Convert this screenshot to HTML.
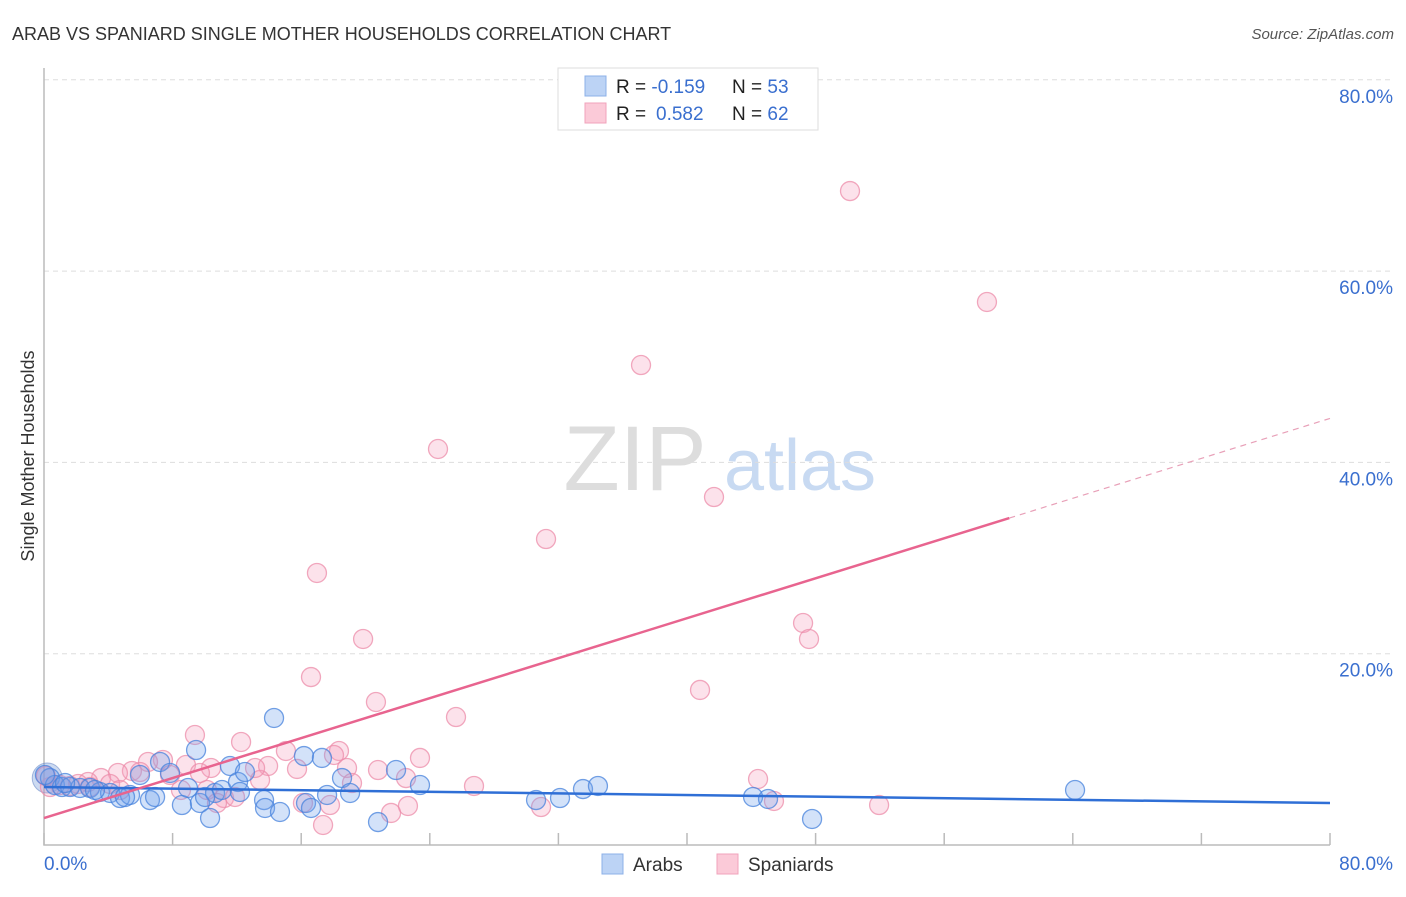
<!DOCTYPE html>
<html><head><meta charset="utf-8"><style>
body{margin:0;background:#fff;font-family:"Liberation Sans",sans-serif}
svg text{font-family:"Liberation Sans",sans-serif}
</style></head><body>
<svg id="c" width="1406" height="892" xmlns="http://www.w3.org/2000/svg">
<text x="12" y="40" font-size="18" fill="#333">ARAB VS SPANIARD SINGLE MOTHER HOUSEHOLDS CORRELATION CHART</text>
<text x="1394" y="39" font-size="15" fill="#555" font-style="italic" text-anchor="end">Source: ZipAtlas.com</text>
<g>
<text x="635" y="490" font-size="92" fill="#ddd" font-family="Liberation Serif" text-anchor="middle">ZIP</text>
<text x="800" y="490" font-size="72" fill="#c8daf2" text-anchor="middle">atlas</text>
</g>
<g id="grid"></g>
<g id="axes"></g>
<g id="pts"></g>
<g id="lines"></g>
<text transform="translate(34,456) rotate(-90)" font-size="18" fill="#333" text-anchor="middle">Single Mother Households</text>
<g>
<rect x="558" y="68" width="260" height="62" fill="#fff" stroke="#ddd"/>
<rect x="585" y="76" width="21" height="20" fill="#bcd3f5" stroke="#8cb0e8"/>
<rect x="585" y="103" width="21" height="20" fill="#fbcad8" stroke="#f0a3bb"/>
<text x="616" y="93" font-size="19" fill="#222">R = <tspan fill="#3a6fcf">-0.159</tspan><tspan x="732">N = </tspan><tspan fill="#3a6fcf">53</tspan></text>
<text x="616" y="120" font-size="19" fill="#222">R = <tspan x="656" fill="#3a6fcf">0.582</tspan><tspan x="732">N = </tspan><tspan fill="#3a6fcf">62</tspan></text>
</g>
<g>
<rect x="602" y="854" width="21" height="20" fill="#bcd3f5" stroke="#8cb0e8"/>
<text x="633" y="871" font-size="19" fill="#333">Arabs</text>
<rect x="717" y="854" width="21" height="20" fill="#fbcad8" stroke="#f0a3bb"/>
<text x="748" y="871" font-size="19" fill="#333">Spaniards</text>
</g>
</svg>
<script>
const arabX=[0.37,0.68,1.12,1.62,2.24,2.86,3.48,4.11,4.73,5.35,5.97,6.59,7.22,7.84,8.58,8.96,9.46,9.70,10.33,10.64,11.07,11.57,12.07,12.50,12.19,13.69,13.75,14.31,14.68,16.17,16.30,16.61,17.29,17.61,18.54,19.04,20.78,21.90,23.39,30.61,32.10,33.53,34.46,44.11,45.04,47.78,64.14,0.06,1.31,3.17,5.04,6.91,10.02];
const arabY=[7.0,6.27,6.06,6.06,5.96,5.96,5.54,5.44,4.91,5.23,7.32,4.70,8.68,7.53,4.18,5.96,9.93,4.39,2.82,5.44,5.75,8.26,6.59,7.63,5.54,4.70,3.87,13.28,3.45,9.30,4.39,3.87,9.10,5.23,7.0,5.44,2.40,7.84,6.27,4.70,4.91,5.85,6.17,5.02,4.81,2.72,5.75,7.32,6.48,5.75,5.02,5.02,5.02];
const spanX=[50.14,58.66,37.14,24.51,41.68,31.23,16.98,19.85,47.22,47.59,16.61,40.81,20.65,25.63,9.39,12.26,15.05,18.35,18.04,23.39,7.40,8.83,6.47,13.94,15.74,18.85,20.78,22.52,5.47,4.60,3.55,2.74,2.12,1.0,0.37,1.62,10.14,8.52,11.20,13.44,26.75,44.42,16.11,22.64,21.59,17.36,30.92,45.41,51.95,11.88,10.39,5.97,13.13,2.86,4.11,7.84,10.76,0.12,9.70,17.79,19.16,4.73];
const spanY=[68.37,56.77,50.18,41.40,36.38,31.99,28.44,21.54,23.21,21.54,17.56,16.21,14.95,13.38,11.50,10.77,9.83,9.83,9.41,9.10,8.89,8.36,8.68,8.26,7.95,8.05,7.84,7.0,7.74,7.53,7.0,6.59,6.38,6.27,6.06,6.17,5.75,5.75,4.91,6.80,6.17,6.90,4.39,4.08,3.35,2.09,3.97,4.60,4.18,5.02,8.05,7.63,8.05,6.06,6.38,7.32,4.39,7.21,7.53,4.18,6.48,5.75];
const yTicks=[20,40,60,80];
const yTickLabels=["20.0%","40.0%","60.0%","80.0%"];
const xTicks=[0,8,16,24,32,40,48,56,64,72,80];
const arabTrend=[6.06,4.39];
const spanTrend=[2.82,44.6];
const spanSolidEnd=60.05;
const NS='http://www.w3.org/2000/svg';
const X=v=>44+v/80*1286, Y=v=>845-v/20*191.3;
function mk(t,a,p){const e=document.createElementNS(NS,t);for(const k in a)e.setAttribute(k,a[k]);p.appendChild(e);return e;}
const grid=document.getElementById('grid'),axes=document.getElementById('axes'),pts=document.getElementById('pts'),lines=document.getElementById('lines');
yTicks.forEach((v,i)=>{
 const g=mk('line',{x1:44,x2:1394,y1:Y(v),y2:Y(v),stroke:'#ddd','stroke-dasharray':'5,4'},grid);
 
 
 const t=mk('text',{x:1393,y:Y(v)+23,'font-size':19,fill:'#3a6fcf','text-anchor':'end'},axes);
 t.textContent=yTickLabels[i];
 
 
});
const ax=mk('path',{d:'M44,68V845H1330',fill:'none',stroke:'#bbb','stroke-width':1.5},axes);


xTicks.forEach(v=>{const l=mk('line',{x1:X(v),x2:X(v),y1:833,y2:845,stroke:'#bbb','stroke-width':1.5},axes);
 
 });
const x0=mk('text',{x:44,y:870,'font-size':19,fill:'#3a6fcf'},axes);x0.textContent='0.0%';


const x1=mk('text',{x:1393,y:870,'font-size':19,fill:'#3a6fcf','text-anchor':'end'},axes);x1.textContent='80.0%';


const big1=mk('circle',{cx:X(0.2),cy:Y(7),r:15,fill:'rgba(110,150,215,0.35)',stroke:'rgba(110,140,200,0.6)'},pts);


spanX.forEach((v,i)=>{const c=mk('circle',{cx:X(v),cy:Y(spanY[i]),r:9.5,fill:'rgba(244,160,188,0.3)',stroke:'rgba(236,140,170,0.75)','stroke-width':1.3},pts);
 
 });
arabX.forEach((v,i)=>{const c=mk('circle',{cx:X(v),cy:Y(arabY[i]),r:9.5,fill:'rgba(110,160,235,0.3)',stroke:'rgba(70,130,220,0.75)','stroke-width':1.3},pts);
 
 });
const bl=mk('line',{x1:X(0),y1:Y(arabTrend[0]),x2:X(80),y2:Y(arabTrend[1]),stroke:'#2f6fd6','stroke-width':2.5},lines);


const sy=v=>spanTrend[0]+(spanTrend[1]-spanTrend[0])*v/80;
const pl=mk('line',{x1:X(0),y1:Y(sy(0)),x2:X(spanSolidEnd),y2:Y(sy(spanSolidEnd)),stroke:'#e8648f','stroke-width':2.5},lines);


const pd=mk('line',{x1:X(spanSolidEnd),y1:Y(sy(spanSolidEnd)),x2:X(80),y2:Y(sy(80)),stroke:'#e8a0b8','stroke-width':1.2,'stroke-dasharray':'6,5'},lines);


</script>
</body></html>
